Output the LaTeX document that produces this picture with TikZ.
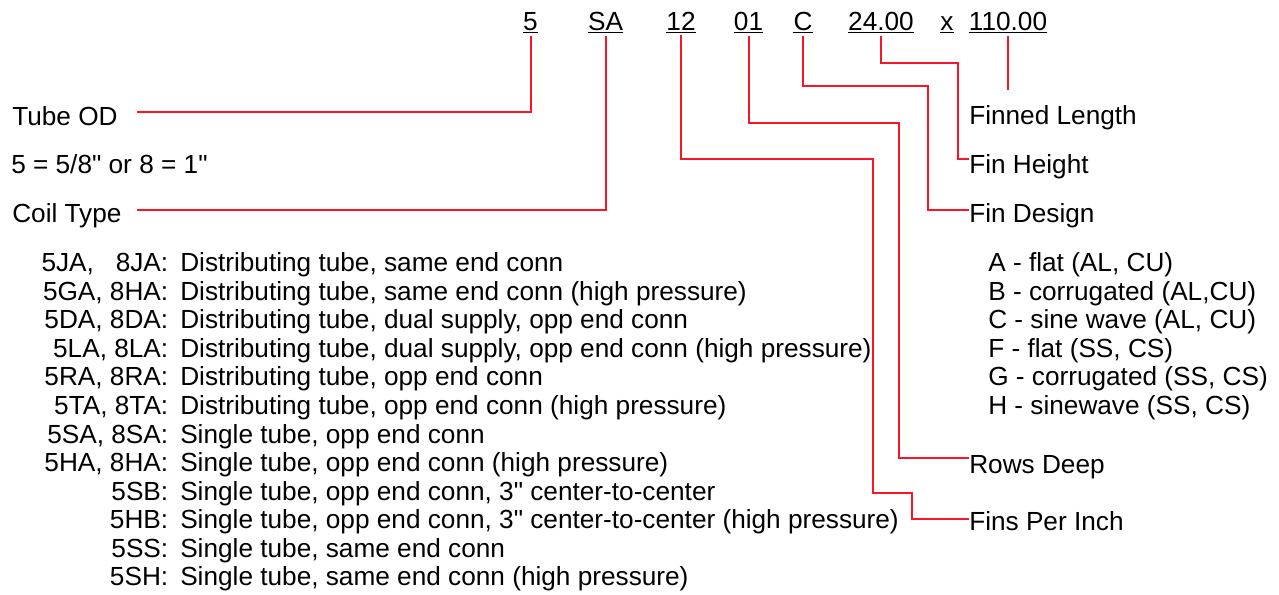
\documentclass[tikz,border=0pt]{standalone}
\usepackage{fontspec}
\setmainfont{Liberation Sans}[Ligatures=TeXOff]
\definecolor{conred}{RGB}{250,20,40}
\begin{document}
\begin{tikzpicture}[x=0.75pt,y=-0.75pt,
  font=\fontsize{19.65pt}{23pt}\selectfont,
  txt/.style={inner sep=0pt, anchor=base west},
  code/.style={inner sep=0pt, anchor=base},
  ccode/.style={inner sep=0pt, anchor=base east},
  conn/.style={draw=conred, line width=1.5pt},
  uline/.style={draw=black, line width=0.9pt}]
\useasboundingbox (0,0) rectangle (1279,594);
\fill[white] (0,0) rectangle (1279,594);

% code header
\node[code] (c5)   at (530.5,30) {5};
\node[code] (cSA)  at (605.5,30) {SA};
\node[code] (c12)  at (681,30) {12};
\node[code] (c01)  at (748.5,30) {01};
\node[code] (cC)   at (803,30) {C};
\node[code] (c24)  at (881,30) {24.00};
\node[code] (cx)   at (947,30) {x};
\node[code] (c110) at (1008,30) {110.00};
\foreach \n in {c5,cSA,c12,c01,cC,c24,cx,c110}
  \draw[uline] ([yshift=-1.8pt]\n.base west) -- ([yshift=-1.8pt]\n.base east);

% left labels
\node[txt] (tubeod)   at (12,125) {Tube OD};
\node[txt] (odnote)   at (11,173) {5 = 5/8" or 8 = 1"};
\node[txt] (coiltype) at (12,222) {Coil Type};
\coordinate (todend) at (137,112);
\coordinate (ctend)  at (137,210);

% right labels
\node[txt] (flen) at (969,124) {Finned Length};
\node[txt] (fh)   at (969,173) {Fin Height};
\node[txt] (fdes) at (969,222) {Fin Design};
\node[txt] (rows) at (969,473) {Rows Deep};
\node[txt] (fpi)  at (969,530) {Fins Per Inch};

% fin design list
\node[txt] (fa) at (988,271.7) {A - flat (AL, CU)};
\node[txt] (fb) at (988,300.25) {B - corrugated (AL,CU)};
\node[txt] (fc) at (988,328.8) {C - sine wave (AL, CU)};
\node[txt] (ff) at (988,357.35) {F - flat (SS, CS)};
\node[txt] (fg) at (988,385.9) {G - corrugated (SS, CS)};
\node[txt] (fhh) at (988,414.45) {H - sinewave (SS, CS)};

% coil type list
\node[ccode] (k1)  at (168.5,271.7)  {5JA,\ \ \ 8JA:};
\node[ccode] (k2)  at (168.5,300.25) {5GA, 8HA:};
\node[ccode] (k3)  at (168.5,328.8)  {5DA, 8DA:};
\node[ccode] (k4)  at (168.5,357.35) {5LA, 8LA:};
\node[ccode] (k5)  at (168.5,385.9)  {5RA, 8RA:};
\node[ccode] (k6)  at (168.5,414.45) {5TA, 8TA:};
\node[ccode] (k7)  at (168.5,443.0)  {5SA, 8SA:};
\node[ccode] (k8)  at (168.5,471.55) {5HA, 8HA:};
\node[ccode] (k9)  at (168.5,500.1)  {5SB:};
\node[ccode] (k10) at (168.5,528.65) {5HB:};
\node[ccode] (k11) at (168.5,557.2)  {5SS:};
\node[ccode] (k12) at (168.5,585.75) {5SH:};
\node[txt] (d1)  at (180,271.7)  {Distributing tube, same end conn};
\node[txt] (d2)  at (180,300.25) {Distributing tube, same end conn (high pressure)};
\node[txt] (d3)  at (180,328.8)  {Distributing tube, dual supply, opp end conn};
\node[txt] (d4)  at (180,357.35) {Distributing tube, dual supply, opp end conn (high pressure)};
\node[txt] (d5)  at (180,385.9)  {Distributing tube, opp end conn};
\node[txt] (d6)  at (180,414.45) {Distributing tube, opp end conn (high pressure)};
\node[txt] (d7)  at (180,443.0)  {Single tube, opp end conn};
\node[txt] (d8)  at (180,471.55) {Single tube, opp end conn (high pressure)};
\node[txt] (d9)  at (180,500.1)  {Single tube, opp end conn, 3" center-to-center};
\node[txt] (d10) at (180,528.65) {Single tube, opp end conn, 3" center-to-center (high pressure)};
\node[txt] (d11) at (180,557.2)  {Single tube, same end conn};
\node[txt] (d12) at (180,585.75) {Single tube, same end conn (high pressure)};

% connectors
\draw[conn] (c5.south) ++(0,5) |- (todend);
\draw[conn] (cSA.south) ++(0,5) |- (ctend);
\draw[conn] (c12.south) ++(0,5) |- (873,159) |- (912,493) |- (fpi.west |- 0,519);
\draw[conn] (c01.south) ++(0,5) |- (899,123) |- (rows.west |- 0,458);
\draw[conn] (cC.south) ++(0,5) |- (928,86) |- (fdes.west |- 0,210);
\draw[conn] (c24.south) ++(0,5) |- (958,63) |- (fh.west |- 0,159);
\coordinate (flend) at (1008,90);
\draw[conn] (c110.south) ++(0,5) -- (flend);
\end{tikzpicture}
\end{document}
